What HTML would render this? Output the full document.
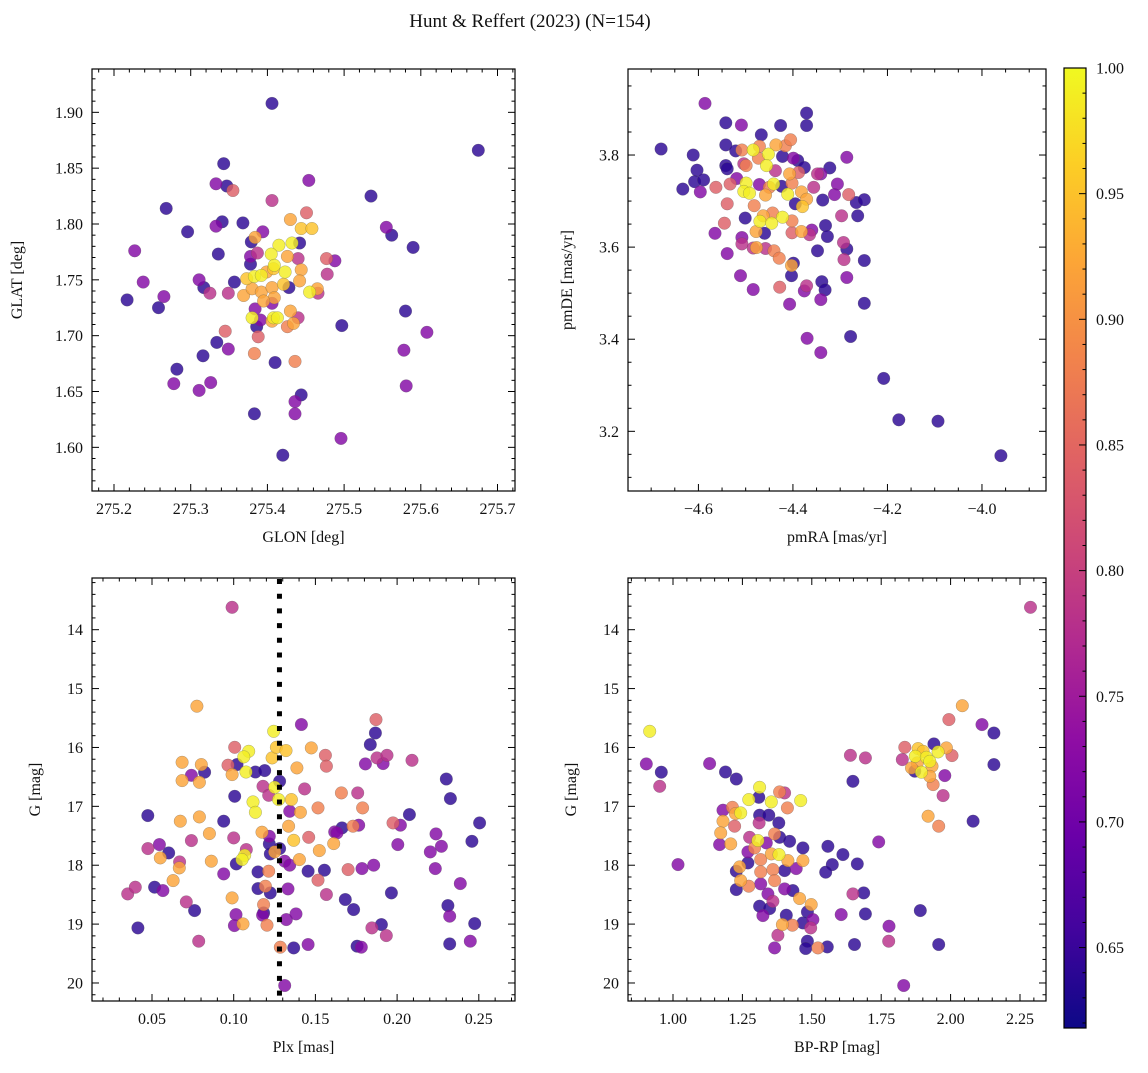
<!DOCTYPE html>
<html><head><meta charset="utf-8">
<style>
body{margin:0;background:#fff;}
svg text{font-family:"Liberation Serif",serif;fill:#111;}
</style></head>
<body>
<svg id="fig" width="1148" height="1068" viewBox="0 0 1148 1068" xmlns="http://www.w3.org/2000/svg">
<defs>
<linearGradient id="plasma" x1="0" y1="1" x2="0" y2="0">
<stop offset="0" stop-color="#0d0887"/><stop offset="0.1" stop-color="#41049d"/><stop offset="0.2" stop-color="#6a00a8"/><stop offset="0.3" stop-color="#8f0da4"/><stop offset="0.4" stop-color="#b12a90"/><stop offset="0.5" stop-color="#cc4778"/><stop offset="0.6" stop-color="#e16462"/><stop offset="0.7" stop-color="#f2844b"/><stop offset="0.8" stop-color="#fca636"/><stop offset="0.9" stop-color="#fcce25"/><stop offset="1" stop-color="#f0f921"/>
</linearGradient>
</defs>
<text x="530" y="27" font-size="19" text-anchor="middle">Hunt &amp; Reffert (2023) (N=154)</text>
</svg>
<script>
const tlGlon=[275.406,275.675,275.343,275.333,275.347,275.355,275.454,275.535,275.268,275.406,275.451,275.430,275.296,275.341,275.333,275.368,275.444,275.458,275.555,275.562,275.590,275.227,275.336,275.384,275.394,275.379,275.415,275.432,275.442,275.405,275.426,275.378,275.387,275.378,275.440,275.477,275.488,275.409,275.423,275.444,275.478,275.408,275.238,275.311,275.317,275.325,275.349,275.357,275.373,275.383,275.392,275.399,275.421,275.428,275.442,275.455,275.465,275.466,275.369,275.380,275.392,275.406,275.409,275.395,275.406,275.265,275.217,275.258,275.384,275.380,275.391,275.386,275.408,275.413,275.406,275.430,275.440,275.434,275.426,275.345,275.388,275.580,275.497,275.608,275.334,275.349,275.578,275.316,275.383,275.410,275.436,275.282,275.278,275.311,275.326,275.581,275.444,275.436,275.436,275.383,275.496,275.420];
const tlGlat=[1.908,1.866,1.854,1.836,1.834,1.830,1.839,1.825,1.814,1.821,1.810,1.804,1.793,1.802,1.798,1.801,1.796,1.796,1.797,1.790,1.779,1.776,1.773,1.788,1.793,1.784,1.781,1.783,1.783,1.773,1.771,1.771,1.774,1.764,1.769,1.769,1.767,1.763,1.757,1.759,1.755,1.760,1.748,1.750,1.743,1.738,1.738,1.748,1.751,1.753,1.754,1.757,1.746,1.743,1.749,1.739,1.742,1.738,1.736,1.742,1.739,1.743,1.734,1.731,1.729,1.735,1.732,1.725,1.724,1.716,1.714,1.708,1.716,1.716,1.713,1.722,1.716,1.711,1.708,1.704,1.699,1.722,1.709,1.703,1.694,1.688,1.687,1.682,1.684,1.676,1.677,1.670,1.657,1.651,1.658,1.655,1.647,1.641,1.630,1.630,1.608,1.593];
const tlProb=[0.64,0.64,0.64,0.72,0.64,0.84,0.72,0.64,0.64,0.78,0.84,0.92,0.64,0.64,0.72,0.64,0.95,0.95,0.72,0.64,0.64,0.72,0.64,0.92,0.72,0.64,0.99,0.99,0.64,0.99,0.92,0.72,0.78,0.64,0.78,0.84,0.72,0.99,0.99,0.92,0.78,0.95,0.72,0.72,0.64,0.78,0.78,0.64,0.95,0.99,0.99,0.92,0.95,0.64,0.92,0.99,0.92,0.78,0.92,0.92,0.92,0.92,0.92,0.92,0.72,0.72,0.64,0.64,0.72,0.99,0.72,0.64,0.99,0.99,0.92,0.92,0.78,0.92,0.88,0.84,0.84,0.64,0.64,0.72,0.64,0.72,0.72,0.64,0.88,0.64,0.88,0.64,0.72,0.72,0.72,0.72,0.64,0.72,0.72,0.64,0.72,0.64];
const trPmra=[-4.586,-4.679,-4.542,-4.509,-4.426,-4.371,-4.371,-4.467,-4.542,-4.521,-4.508,-4.484,-4.471,-4.436,-4.416,-4.405,-4.473,-4.452,-4.456,-4.422,-4.399,-4.390,-4.376,-4.286,-4.611,-4.603,-4.542,-4.539,-4.504,-4.499,-4.437,-4.407,-4.388,-4.348,-4.341,-4.322,-4.608,-4.589,-4.633,-4.596,-4.563,-4.533,-4.519,-4.499,-4.504,-4.492,-4.471,-4.450,-4.441,-4.458,-4.424,-4.402,-4.411,-4.382,-4.371,-4.356,-4.337,-4.306,-4.312,-4.282,-4.266,-4.249,-4.539,-4.482,-4.501,-4.395,-4.380,-4.463,-4.443,-4.422,-4.470,-4.445,-4.402,-4.297,-4.263,-4.545,-4.565,-4.508,-4.508,-4.478,-4.460,-4.402,-4.382,-4.365,-4.360,-4.331,-4.327,-4.484,-4.477,-4.458,-4.440,-4.429,-4.348,-4.293,-4.286,-4.292,-4.249,-4.539,-4.399,-4.403,-4.403,-4.511,-4.286,-4.339,-4.371,-4.376,-4.332,-4.428,-4.484,-4.341,-4.407,-4.249,-4.370,-4.278,-4.341,-4.208,-4.176,-4.093,-3.960];
const trPmde=[3.912,3.813,3.870,3.865,3.864,3.891,3.864,3.844,3.822,3.809,3.811,3.811,3.819,3.822,3.820,3.833,3.793,3.802,3.777,3.797,3.793,3.788,3.773,3.795,3.800,3.767,3.777,3.770,3.781,3.777,3.766,3.759,3.762,3.759,3.759,3.772,3.742,3.746,3.726,3.720,3.730,3.737,3.749,3.739,3.721,3.717,3.736,3.730,3.737,3.713,3.732,3.739,3.715,3.720,3.704,3.730,3.702,3.737,3.714,3.714,3.697,3.703,3.694,3.690,3.663,3.694,3.688,3.668,3.674,3.665,3.656,3.652,3.657,3.668,3.668,3.652,3.630,3.621,3.607,3.634,3.630,3.631,3.634,3.627,3.637,3.647,3.623,3.598,3.599,3.597,3.592,3.576,3.592,3.610,3.596,3.573,3.571,3.586,3.565,3.560,3.538,3.538,3.534,3.525,3.516,3.505,3.507,3.513,3.508,3.486,3.476,3.478,3.402,3.406,3.371,3.315,3.225,3.222,3.147];
const trProb=[0.72,0.64,0.64,0.72,0.64,0.64,0.64,0.64,0.64,0.64,0.88,0.99,0.88,0.92,0.88,0.88,0.88,0.99,0.99,0.64,0.72,0.64,0.64,0.72,0.64,0.64,0.64,0.64,0.78,0.88,0.78,0.92,0.84,0.78,0.72,0.64,0.64,0.64,0.64,0.72,0.84,0.84,0.72,0.99,0.99,0.99,0.72,0.88,0.99,0.92,0.64,0.88,0.99,0.92,0.92,0.78,0.64,0.72,0.72,0.84,0.64,0.64,0.84,0.88,0.64,0.64,0.95,0.92,0.88,0.99,0.99,0.99,0.88,0.78,0.64,0.84,0.72,0.72,0.78,0.92,0.64,0.84,0.92,0.78,0.72,0.64,0.64,0.78,0.92,0.78,0.88,0.88,0.64,0.78,0.64,0.78,0.64,0.72,0.64,0.92,0.64,0.72,0.72,0.64,0.78,0.72,0.64,0.84,0.72,0.72,0.72,0.64,0.72,0.64,0.72,0.64,0.64,0.64,0.64];
const blPlx=[0.0990,0.0775,0.1414,0.1245,0.1871,0.1867,0.1836,0.1006,0.1092,0.1062,0.1235,0.1261,0.1320,0.1475,0.1561,0.1567,0.1877,0.1938,0.1914,0.1806,0.2091,0.0684,0.0684,0.0802,0.0790,0.0741,0.0822,0.0965,0.0990,0.1020,0.1075,0.1133,0.1190,0.1387,0.1281,0.1179,0.1214,0.1251,0.1275,0.1353,0.1343,0.1408,0.1434,0.1118,0.1133,0.1006,0.1659,0.1759,0.1789,0.1516,0.2301,0.2326,0.0474,0.0673,0.0790,0.0939,0.1336,0.1173,0.1663,0.1618,0.1730,0.1765,0.1975,0.2020,0.2075,0.2505,0.0741,0.0851,0.1000,0.0475,0.0545,0.0602,0.0551,0.1077,0.1218,0.1218,0.1224,0.1251,0.1281,0.1367,0.1459,0.1524,0.1612,0.1632,0.2004,0.2238,0.2271,0.2203,0.2458,0.1067,0.1051,0.1016,0.0669,0.0667,0.0863,0.0939,0.1149,0.1214,0.1312,0.1343,0.1402,0.1455,0.1555,0.1700,0.1785,0.1857,0.2234,0.0629,0.1516,0.2387,0.0351,0.0398,0.0516,0.0567,0.1149,0.1194,0.1224,0.1332,0.1567,0.1965,0.0710,0.0761,0.0990,0.1183,0.1183,0.1177,0.1683,0.1734,0.2311,0.2322,0.1014,0.1004,0.1057,0.1204,0.1322,0.1381,0.0414,0.1846,0.1904,0.1934,0.2475,0.0786,0.1285,0.1367,0.1455,0.1755,0.1781,0.2322,0.2448,0.1312];
const blG=[13.62,15.30,15.61,15.725,15.527,15.754,15.952,15.997,16.065,16.161,16.178,15.997,16.054,16.008,16.133,16.319,16.178,16.133,16.274,16.280,16.218,16.252,16.563,16.291,16.591,16.472,16.421,16.302,16.461,16.291,16.416,16.416,16.393,16.348,16.574,16.659,16.812,16.676,16.886,16.886,17.084,17.101,16.704,16.925,17.101,16.829,16.772,16.772,17.027,17.027,16.535,16.868,17.157,17.253,17.180,17.253,17.338,17.440,17.366,17.434,17.338,17.321,17.282,17.321,17.140,17.282,17.582,17.463,17.536,17.718,17.650,17.791,17.876,17.735,17.508,17.638,17.808,17.774,17.718,17.576,17.525,17.751,17.632,17.451,17.650,17.468,17.678,17.774,17.593,17.831,17.904,17.978,17.944,18.046,17.932,18.147,18.113,18.102,17.932,18.000,17.904,18.102,18.085,18.074,18.057,18.000,18.057,18.261,18.255,18.312,18.487,18.374,18.374,18.431,18.397,18.357,18.470,18.402,18.498,18.470,18.623,18.770,18.555,18.668,18.810,18.849,18.583,18.753,18.685,18.866,18.838,19.025,18.996,19.019,18.923,18.826,19.064,19.064,19.008,19.195,18.991,19.291,19.393,19.404,19.347,19.375,19.393,19.336,19.291,20.043];
const blProb=[0.78,0.92,0.72,0.99,0.84,0.64,0.64,0.84,0.99,0.99,0.95,0.95,0.95,0.92,0.84,0.84,0.78,0.78,0.72,0.72,0.78,0.92,0.92,0.92,0.92,0.72,0.64,0.84,0.92,0.64,0.99,0.64,0.64,0.92,0.64,0.78,0.78,0.99,0.99,0.95,0.72,0.92,0.78,0.99,0.99,0.64,0.88,0.78,0.88,0.88,0.64,0.64,0.64,0.92,0.92,0.64,0.92,0.92,0.64,0.72,0.88,0.72,0.84,0.72,0.64,0.64,0.78,0.92,0.78,0.78,0.72,0.64,0.92,0.78,0.72,0.64,0.64,0.92,0.64,0.95,0.84,0.92,0.92,0.72,0.72,0.72,0.72,0.72,0.64,0.99,0.99,0.64,0.78,0.92,0.92,0.72,0.64,0.88,0.72,0.72,0.92,0.64,0.64,0.84,0.72,0.72,0.72,0.92,0.84,0.72,0.78,0.78,0.64,0.72,0.64,0.88,0.64,0.72,0.78,0.64,0.78,0.64,0.92,0.88,0.64,0.72,0.64,0.64,0.64,0.72,0.72,0.72,0.92,0.88,0.72,0.72,0.64,0.78,0.64,0.78,0.64,0.78,0.88,0.64,0.72,0.64,0.72,0.64,0.72,0.72];
const brColor=[2.288,0.916,2.042,1.994,2.113,2.156,1.940,1.835,1.883,1.901,1.985,1.955,2.005,1.826,1.873,1.913,1.880,1.859,1.933,1.925,2.156,1.895,1.871,1.979,1.925,1.937,1.973,1.919,1.957,2.081,1.639,1.693,1.648,0.904,0.958,0.952,1.132,1.189,1.228,1.312,1.273,1.309,1.354,1.384,1.402,1.412,1.460,1.180,1.214,1.244,1.225,1.180,1.222,1.312,1.345,1.381,1.310,1.366,1.384,1.172,1.208,1.168,1.276,1.306,1.336,1.420,1.468,1.270,1.294,1.316,1.354,1.382,1.414,1.468,1.270,1.240,1.228,1.316,1.360,1.402,1.444,1.558,1.612,1.574,1.550,1.664,1.741,1.018,1.244,1.273,1.228,1.316,1.366,1.402,1.432,1.456,1.342,1.360,1.312,1.348,1.324,1.498,1.484,1.504,1.408,1.394,1.430,1.468,1.496,1.378,1.366,1.484,1.478,1.522,1.556,1.606,1.648,1.687,1.693,1.654,1.778,1.777,1.891,1.957,1.831];
const brG=[13.62,15.725,15.290,15.527,15.612,15.754,15.940,15.997,16.020,16.065,16.008,16.076,16.138,16.206,16.150,16.167,16.263,16.348,16.319,16.235,16.291,16.421,16.404,16.478,16.489,16.631,16.818,17.168,17.338,17.253,16.133,16.178,16.574,16.280,16.421,16.659,16.274,16.416,16.535,16.676,16.886,16.846,16.925,16.755,16.772,17.027,16.903,17.066,17.016,17.112,17.123,17.253,17.338,17.151,17.151,17.282,17.282,17.468,17.525,17.451,17.638,17.650,17.525,17.581,17.621,17.593,17.706,17.774,17.706,17.904,17.808,17.819,17.921,17.921,17.960,18.028,18.102,18.113,18.074,18.091,18.057,17.678,17.819,17.989,18.119,17.978,17.604,17.989,18.261,18.357,18.414,18.317,18.261,18.402,18.431,18.566,18.487,18.612,18.696,18.736,18.855,18.668,18.793,18.923,18.849,19.008,19.019,18.980,19.064,19.189,19.404,19.291,19.415,19.404,19.387,18.838,18.487,18.470,18.826,19.347,19.036,19.291,18.770,19.347,20.043];
const brProb=[0.78,0.99,0.92,0.84,0.72,0.64,0.64,0.84,0.95,0.95,0.92,0.99,0.84,0.78,0.99,0.99,0.92,0.92,0.92,0.99,0.64,0.99,0.64,0.72,0.92,0.88,0.78,0.92,0.88,0.64,0.78,0.78,0.64,0.72,0.64,0.78,0.72,0.64,0.64,0.99,0.99,0.64,0.99,0.88,0.78,0.88,0.99,0.72,0.88,0.99,0.92,0.92,0.84,0.64,0.64,0.64,0.78,0.88,0.64,0.92,0.92,0.72,0.78,0.99,0.72,0.64,0.64,0.72,0.88,0.88,0.92,0.99,0.92,0.92,0.64,0.92,0.64,0.88,0.88,0.64,0.72,0.64,0.64,0.64,0.64,0.64,0.72,0.72,0.92,0.88,0.64,0.72,0.88,0.72,0.64,0.92,0.72,0.78,0.64,0.64,0.72,0.92,0.64,0.72,0.64,0.92,0.88,0.64,0.78,0.78,0.72,0.64,0.64,0.88,0.64,0.72,0.78,0.64,0.64,0.64,0.72,0.78,0.64,0.64,0.72];
const plxCut=[0.128];
const cbTicks=[0.65,0.70,0.75,0.80,0.85,0.90,0.95,1.00];

const NS='http://www.w3.org/2000/svg';
const svg=document.getElementById('fig');
const VMIN=0.618,VMAX=1.0;
const stops=['#0d0887','#41049d','#6a00a8','#8f0da4','#b12a90','#cc4778','#e16462','#f2844b','#fca636','#fcce25','#f0f921'];
function hx(c){return [parseInt(c.substr(1,2),16),parseInt(c.substr(3,2),16),parseInt(c.substr(5,2),16)];}
function cmap(v){let t=(v-VMIN)/(VMAX-VMIN);t=Math.max(0,Math.min(1,t))*10;const i=Math.min(9,Math.floor(t)),f=t-i;const a=hx(stops[i]),b=hx(stops[i+1]);return 'rgb('+a.map((x,k)=>Math.round(x+(b[k]-x)*f)).join(',')+')';}
function mk(tag,attrs,parent){const e=document.createElementNS(NS,tag);for(const k in attrs)e.setAttribute(k,attrs[k]);(parent||svg).appendChild(e);return e;}
function fmt(v,d){const s=Math.abs(v).toFixed(d);return (v<-1e-9?'\u2212':'')+s;}
let clipN=0;
function panel(o){
  const g=mk('g',{});
  
  
  const sx=v=>o.x0+(v-o.xd[0])/(o.xd[1]-o.xd[0])*(o.x1-o.x0);
  const sy=v=>o.inv? o.y0+(v-o.yd[0])/(o.yd[1]-o.yd[0])*(o.y1-o.y0) : o.y1-(v-o.yd[0])/(o.yd[1]-o.yd[0])*(o.y1-o.y0);
  const cid='clip'+(clipN++);
  const cp=mk('clipPath',{id:cid},g);mk('rect',{x:o.x0,y:o.y0,width:o.x1-o.x0,height:o.y1-o.y0},cp);
  const pg=mk('g',{'clip-path':'url(#'+cid+')'},g);
  
  
  const idx=o.xs.map((_,i)=>i).sort((a,b)=>o.c[a]-o.c[b]);
  idx.forEach(i=>{
    const c=mk('circle',{cx:sx(o.xs[i]).toFixed(1),cy:sy(o.ys[i]).toFixed(1),r:6.3,fill:cmap(o.c[i]),'fill-opacity':0.82,stroke:'#555','stroke-width':0.4,'stroke-opacity':0.6},pg);
    
    
  });
  if(o.extra)o.extra(pg,sx,sy);
  const fr=mk('rect',{x:o.x0,y:o.y0,width:o.x1-o.x0,height:o.y1-o.y0,fill:'none',stroke:'#000','stroke-width':1.2},g);
  
  
  for(let k=Math.ceil(o.xd[0]/o.xmin-1e-6);k*o.xmin<=o.xd[1]+1e-9;k++){
    const v=k*o.xmin,X=sx(v);if(X<o.x0+0.5||X>o.x1-0.5)continue;
    const major=Math.abs(v/o.xmaj-Math.round(v/o.xmaj))<1e-6;const L=major?7:3.5;
    mk('line',{x1:X,x2:X,y1:o.y1,y2:o.y1-L,stroke:'#000','stroke-width':1},g);
    mk('line',{x1:X,x2:X,y1:o.y0,y2:o.y0+L,stroke:'#000','stroke-width':1},g);
  }
  o.xlab.forEach(v=>{const t=mk('text',{x:sx(v),y:o.y1+23,'font-size':16,'text-anchor':'middle'},g);t.textContent=fmt(v,o.xdec);
    });
  for(let k=Math.ceil(Math.min(...o.yd)/o.ymin-1e-6);k*o.ymin<=Math.max(...o.yd)+1e-9;k++){
    const v=k*o.ymin,Y=sy(v);if(Y<o.y0+0.5||Y>o.y1-0.5)continue;
    const major=Math.abs(v/o.ymaj-Math.round(v/o.ymaj))<1e-6;const L=major?7:3.5;
    mk('line',{x1:o.x0,x2:o.x0+L,y1:Y,y2:Y,stroke:'#000','stroke-width':1},g);
    mk('line',{x1:o.x1,x2:o.x1-L,y1:Y,y2:Y,stroke:'#000','stroke-width':1},g);
  }
  o.ylab.forEach(v=>{const t=mk('text',{x:o.x0-9,y:sy(v)+5.5,'font-size':16,'text-anchor':'end'},g);t.textContent=fmt(v,o.ydec);
    });
  const xt=mk('text',{x:(o.x0+o.x1)/2,y:o.y1+51,'font-size':16,'text-anchor':'middle'},g);xt.textContent=o.xt;
  
  const yx=o.ytx,yy=(o.y0+o.y1)/2;
  const yt=mk('text',{x:yx,y:yy,'font-size':16,'text-anchor':'middle',transform:'rotate(-90 '+yx+' '+yy+')'},g);yt.textContent=o.yt;
  
}

panel({name:'glon-glat-panel',x0:92,x1:515,y0:69,y1:491,xd:[275.1713,275.7228],yd:[1.5609,1.9388],xs:tlGlon,ys:tlGlat,c:tlProb,
  xmin:0.02,xmaj:0.1,ymin:0.01,ymaj:0.05,xlab:[275.2,275.3,275.4,275.5,275.6,275.7],xdec:1,ylab:[1.60,1.65,1.70,1.75,1.80,1.85,1.90],ydec:2,xt:'GLON [deg]',yt:'GLAT [deg]',ytx:22});
panel({name:'pm-panel',x0:628,x1:1046,y0:69,y1:491,xd:[-4.749,-3.8645],yd:[3.0704,3.9868],xs:trPmra,ys:trPmde,c:trProb,
  xmin:0.05,xmaj:0.2,ymin:0.05,ymaj:0.2,xlab:[-4.6,-4.4,-4.2,-4.0],xdec:1,ylab:[3.2,3.4,3.6,3.8],ydec:1,xt:'pmRA [mas/yr]',yt:'pmDE [mas/yr]',ytx:572});
panel({name:'plx-g-panel',x0:92,x1:515,y0:578,y1:1001,xd:[0.01328,0.27215],yd:[13.122,20.306],inv:true,xs:blPlx,ys:blG,c:blProb,
  xmin:0.01,xmaj:0.05,ymin:0.2,ymaj:1,xlab:[0.05,0.10,0.15,0.20,0.25],xdec:2,ylab:[14,15,16,17,18,19,20],ydec:0,xt:'Plx [mas]',yt:'G [mag]',ytx:40,
  extra:(g,sx,sy)=>{plxCut.forEach(v=>{const l=mk('line',{x1:sx(v),x2:sx(v),y1:579,y2:1000,stroke:'#000','stroke-width':5,'stroke-dasharray':'5,9.7'},g);
    });}});
panel({name:'cmd-panel',x0:628,x1:1046,y0:578,y1:1001,xd:[0.8379,2.3437],yd:[13.122,20.306],inv:true,xs:brColor,ys:brG,c:brProb,
  xmin:0.05,xmaj:0.25,ymin:0.2,ymaj:1,xlab:[1.00,1.25,1.50,1.75,2.00,2.25],xdec:2,ylab:[14,15,16,17,18,19,20],ydec:0,xt:'BP-RP [mag]',yt:'G [mag]',ytx:576});

(function(){
  const cb=document.createElementNS(NS,'g');svg.appendChild(cb);
  
  
  const y0=68,y1=1028,x0=1064,x1=1086;
  mk('rect',{x:x0,y:y0,width:x1-x0,height:y1-y0,fill:'url(#plasma)',stroke:'#000','stroke-width':1.2},cb);
  const cy=v=>y1-(v-VMIN)/(VMAX-VMIN)*(y1-y0);
  for(let k=62;k<=100;k++){const v=k/100,Y=cy(v);if(Y<y0+0.5||Y>y1-0.5)continue;const major=k%5===0;
    mk('line',{x1:x1,x2:x1-(major?7:3.5),y1:Y,y2:Y,stroke:'#000','stroke-width':1},cb);}
  cbTicks.forEach(v=>{const t=mk('text',{x:x1+10,y:cy(v)+5.5,'font-size':16},cb);t.textContent=v.toFixed(2);
    });
})();
</script>
</body></html>
